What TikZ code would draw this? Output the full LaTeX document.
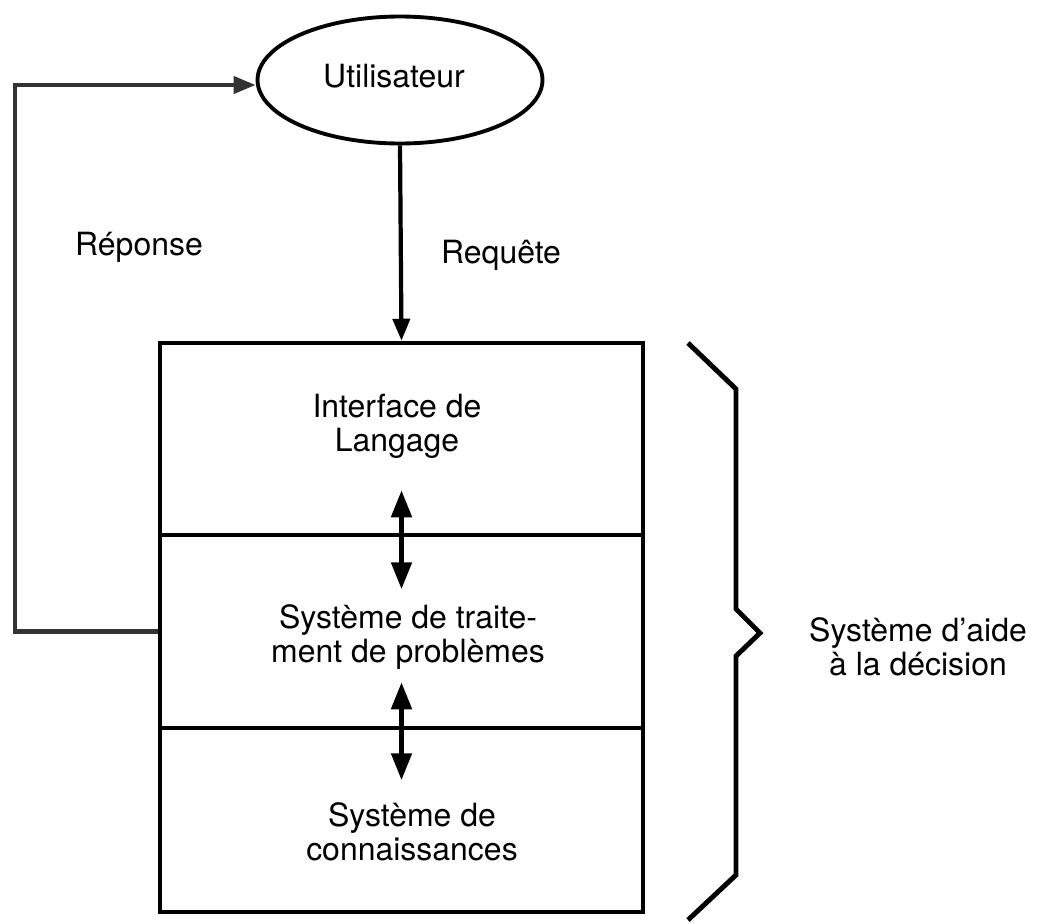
\documentclass[tikz,border=0pt]{standalone}
\usepackage{fontspec}
\setmainfont{TeX Gyre Heros}
\usetikzlibrary{arrows.meta, positioning, shapes.geometric, calc}

\begin{document}
\begin{tikzpicture}[
    x=0.02cm, y=-0.02cm,
    % Block styles
    userell/.style={draw, ellipse, line width=2.2pt, minimum width=5.7cm, minimum height=2.54cm, inner sep=0pt},
    section/.style={draw, line width=2.6pt, minimum width=9.66cm, inner sep=0pt},
    txt/.style={font=\fontsize{18.2}{19.1}\selectfont, align=center, inner sep=0pt},
    % Connector styles
    flow/.style={line width=2.4pt, -{Triangle[length=0.44cm, width=0.34cm]}},
    feedback/.style={flow, draw=black!80},
    dblarrow/.style={line width=2.8pt, {Triangle[length=0.54cm, width=0.4cm]}-{Triangle[length=0.54cm, width=0.4cm]}},
    brace_line/.style={line width=2.8pt, line join=miter}
]
\useasboundingbox (0,0) rectangle (1037,923);

% User at top
\node[userell] (user) at (400,80) {};
\node[txt] (user_txt) at (394,76) {Utilisateur};

% Stacked sections of the system
\node[section, minimum height=3.84cm] (iface) at (401.5,439) {};
\node[section, minimum height=3.86cm] (proc) at (401.5,631.5) {};
\node[section, minimum height=3.68cm] (know) at (401.5,820) {};
\node[txt] (iface_txt) at (397,426) {Interface de\\Langage};
\node[txt] (proc_txt) at (408,637) {Système de traite-\\ment de problèmes};
\node[txt] (know_txt) at (412,832) {Système de\\connaissances};

% Labels
\node[txt] (rep_lbl) at (139,247) {Réponse};
\node[txt] (req_lbl) at (501,255) {Requête};
\node[txt] (sad_lbl) at (918,647) {Système d'aide\\à la décision};

% Request and response
\draw[flow] (user.south) -- (iface.north);
\draw[feedback] (proc.west) -- ++(-143,0) |- ([yshift=-0.1cm]user.west);

% Exchanges between sections
\draw[dblarrow] ($(iface.south)+(0,-47)$) -- ($(iface.south)+(0,52)$);
\draw[dblarrow] ($(proc.south)+(0,-48)$) -- ($(proc.south)+(0,50)$);

% Brace
\draw[brace_line] (688,343) -- (736,389) -- (736,609) -- (760,633) -- (736,656) -- (736,875) -- (688,920);

\end{tikzpicture}
\end{document}
